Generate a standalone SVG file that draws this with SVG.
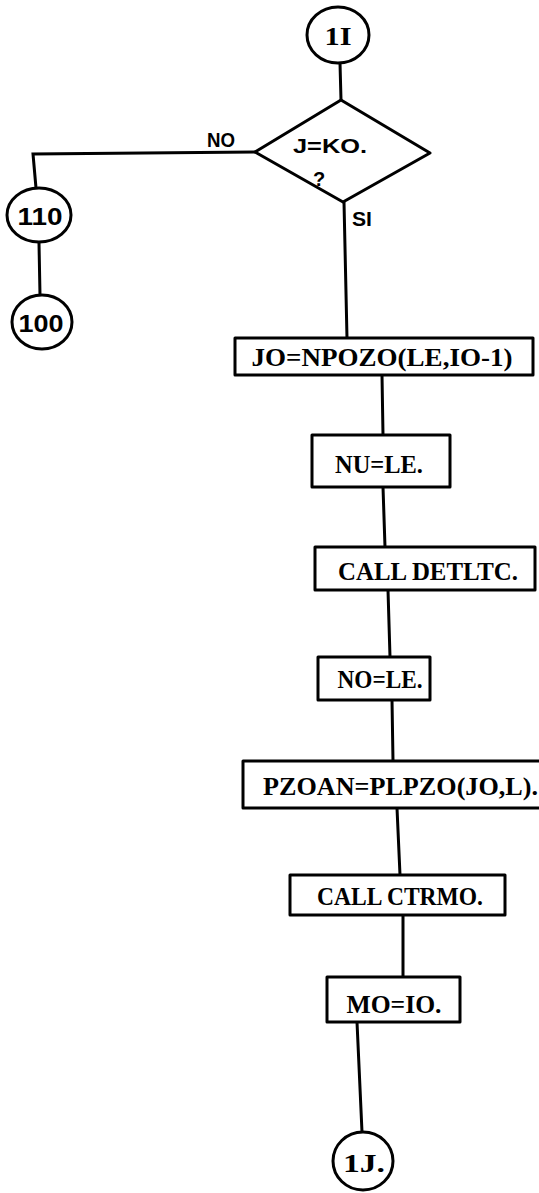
<svg xmlns="http://www.w3.org/2000/svg" width="539" height="1193" viewBox="0 0 539 1193">
<style>
.shape{fill:#fff;stroke:#000;stroke-width:3;stroke-linejoin:round}
.conn{fill:none;stroke:#000;stroke-width:3;stroke-linecap:round}
.bt{font-family:"Liberation Serif","DejaVu Serif",serif;font-weight:bold;font-size:25px;fill:#000}
.lb{font-family:"Liberation Sans",Arial,sans-serif;font-weight:bold;font-size:20px;fill:#000}
.ct{font-family:"Liberation Sans",Arial,sans-serif;font-weight:bold;font-size:24px;fill:#000}
</style>
<rect width="539" height="1193" fill="#fff"/>
<g id="connectors">
<line class="conn" x1="340" y1="63" x2="341" y2="100"/>
<polyline class="conn" points="255,152 33,154 36,188"/>
<line class="conn" x1="39" y1="243" x2="40" y2="295"/>
<line class="conn" x1="344" y1="202" x2="347" y2="338"/>
<line class="conn" x1="382" y1="375" x2="383" y2="435"/>
<line class="conn" x1="383" y1="487" x2="385" y2="547"/>
<line class="conn" x1="388" y1="590" x2="390" y2="657"/>
<line class="conn" x1="392" y1="700" x2="393" y2="761"/>
<line class="conn" x1="397" y1="808" x2="400" y2="875"/>
<line class="conn" x1="403" y1="915" x2="403" y2="977"/>
<line class="conn" x1="357" y1="1022" x2="362" y2="1132"/>
</g>
<g id="n11">
<ellipse class="shape" cx="338" cy="35" rx="31" ry="28"/>
<text class="bt" x="338" y="45" text-anchor="middle" textLength="27" lengthAdjust="spacingAndGlyphs">1I</text>
</g>
<g id="decision">
<polygon class="shape" points="341,100 430,153 343,202 255,152"/>
<text class="lb" x="330" y="153" text-anchor="middle" font-size="18" textLength="74" lengthAdjust="spacingAndGlyphs">J=KO.</text>
<text class="lb" x="319" y="186" text-anchor="middle" font-size="18">?</text>
<text class="lb" x="221" y="147" text-anchor="middle" textLength="28" lengthAdjust="spacingAndGlyphs">NO</text>
<text class="lb" x="362" y="226" text-anchor="middle" textLength="20" lengthAdjust="spacingAndGlyphs">SI</text>
</g>
<g id="n110">
<ellipse class="shape" cx="39" cy="215" rx="32" ry="27"/>
<text class="ct" x="40" y="225" text-anchor="middle" textLength="45" lengthAdjust="spacingAndGlyphs">110</text>
</g>
<g id="n100">
<ellipse class="shape" cx="42" cy="322" rx="30" ry="27"/>
<text class="ct" x="41" y="332" text-anchor="middle" textLength="45" lengthAdjust="spacingAndGlyphs">100</text>
</g>
<g id="jo">
<rect class="shape" x="235" y="338" width="298" height="37"/>
<text class="bt" x="382" y="366" text-anchor="middle" textLength="261" lengthAdjust="spacingAndGlyphs">JO=NPOZO(LE,IO-1)</text>
</g>
<g id="nu">
<rect class="shape" x="312" y="435" width="138" height="52"/>
<text class="bt" x="379" y="473" text-anchor="middle" textLength="88" lengthAdjust="spacingAndGlyphs">NU=LE.</text>
</g>
<g id="detltc">
<rect class="shape" x="315" y="547" width="220" height="43"/>
<text class="bt" x="428" y="580" text-anchor="middle" textLength="180" lengthAdjust="spacingAndGlyphs">CALL DETLTC.</text>
</g>
<g id="no">
<rect class="shape" x="318" y="657" width="112" height="43"/>
<text class="bt" x="380" y="688" text-anchor="middle" textLength="85" lengthAdjust="spacingAndGlyphs">NO=LE.</text>
</g>
<g id="pzoan">
<rect class="shape" x="243" y="761" width="310" height="47"/>
<text class="bt" x="263" y="795" textLength="275" lengthAdjust="spacingAndGlyphs">PZOAN=PLPZO(JO,L).</text>
</g>
<g id="ctrmo">
<rect class="shape" x="290" y="875" width="215" height="40"/>
<text class="bt" x="400" y="905" text-anchor="middle" textLength="166" lengthAdjust="spacingAndGlyphs">CALL CTRMO.</text>
</g>
<g id="mo">
<rect class="shape" x="327" y="977" width="133" height="45"/>
<text class="bt" x="394" y="1013" text-anchor="middle" textLength="95" lengthAdjust="spacingAndGlyphs">MO=IO.</text>
</g>
<g id="n1j">
<ellipse class="shape" cx="363" cy="1161" rx="30" ry="29"/>
<text class="bt" x="364" y="1172" text-anchor="middle" textLength="42" lengthAdjust="spacingAndGlyphs">1J.</text>
</g>
</svg>
